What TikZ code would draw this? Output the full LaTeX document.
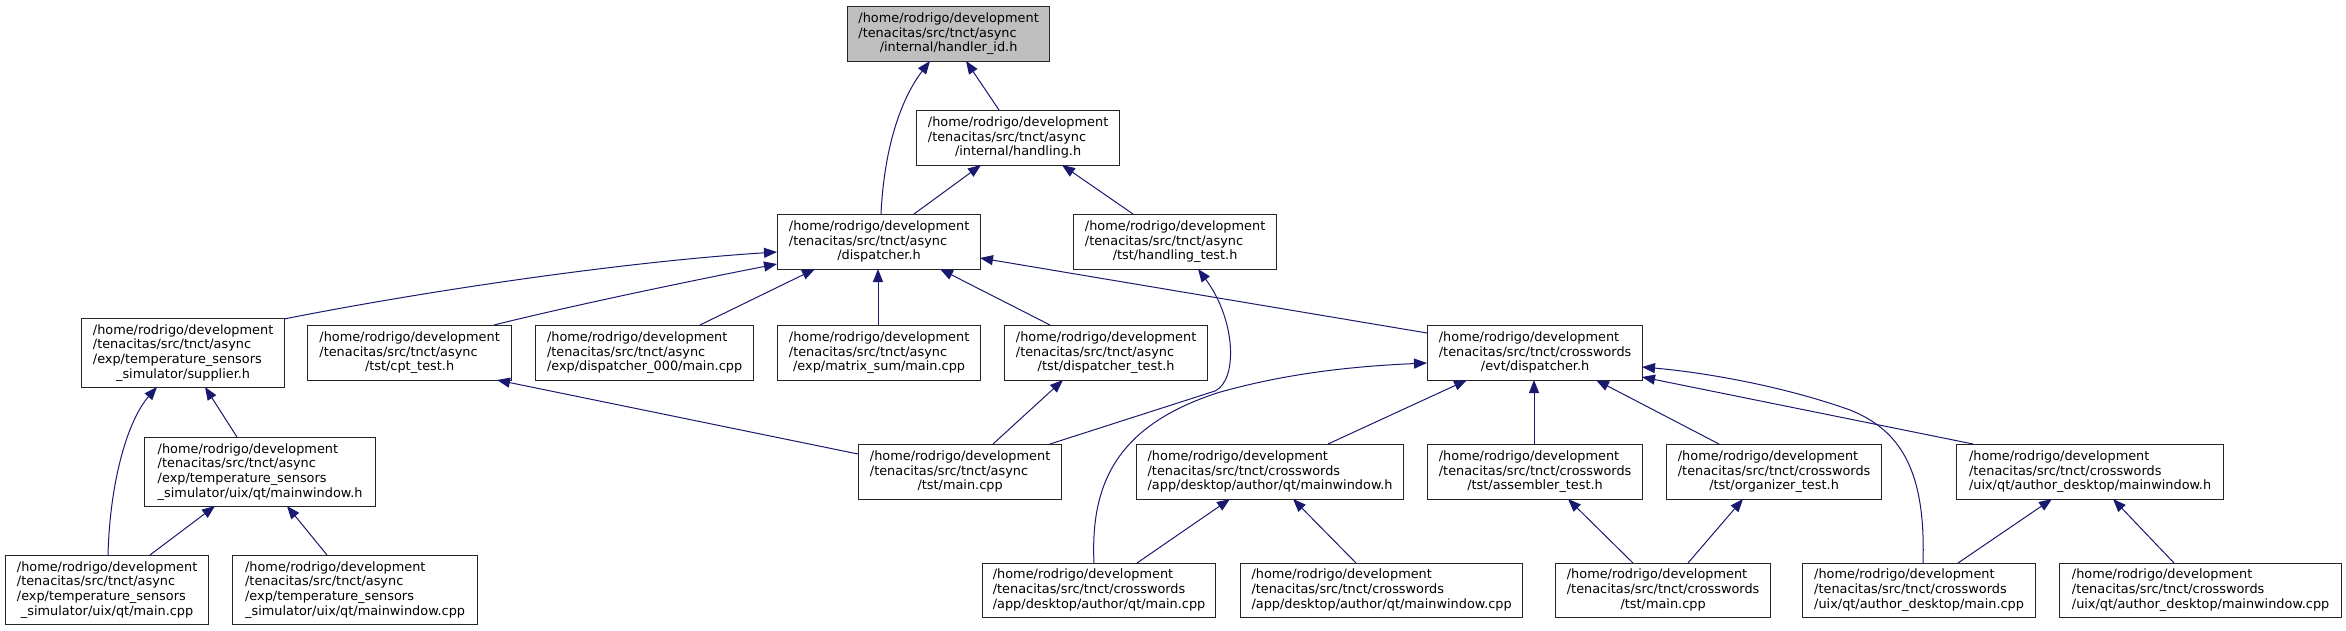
\documentclass[tikz,border=0pt]{standalone}
\usepackage{fontspec}
\setmainfont{DejaVu Sans}
\usetikzlibrary{arrows.meta,calc}
\definecolor{edgeblue}{HTML}{191970}
\definecolor{rootgray}{HTML}{BFBFBF}
\newcommand\labthree[3]{\begin{tabular}{@{}l@{}}#1\\#2\\\multicolumn{1}{@{}c@{}}{#3}\end{tabular}}
\newcommand\labfour[4]{\begin{tabular}{@{}l@{}}#1\\#2\\#3\\\multicolumn{1}{@{}c@{}}{#4}\end{tabular}}
\begin{document}
\begin{tikzpicture}[x=1pt,y=-1pt,
  box/.style={draw=black!85, line width=1.2pt, fill=white, inner sep=0pt, anchor=north west,
    font=\fontsize{12.87}{14.67}\selectfont},
  edge/.style={draw=edgeblue, line width=1pt, -{Triangle[length=13pt,width=10pt]}}]
\useasboundingbox[fill=white] (0,0) rectangle (2346,631);
% rank 0
\node[box, fill=rootgray, minimum width=202pt, minimum height=55pt] (hid) at (847,6)
  {\labthree{/home/rodrigo/development}{/tenacitas/src/tnct/async}{/internal/handler\_id.h}};
% rank 1
\node[box, minimum width=203pt, minimum height=55pt] (hdl) at (916,110)
  {\labthree{/home/rodrigo/development}{/tenacitas/src/tnct/async}{/internal/handling.h}};
% rank 2
\node[box, minimum width=203pt, minimum height=55pt] (dsp) at (777,214)
  {\labthree{/home/rodrigo/development}{/tenacitas/src/tnct/async}{/dispatcher.h}};
\node[box, minimum width=203pt, minimum height=55pt] (hdt) at (1073,214)
  {\labthree{/home/rodrigo/development}{/tenacitas/src/tnct/async}{/tst/handling\_test.h}};
% rank 3
\node[box, minimum width=203pt, minimum height=69pt] (sup) at (81,318)
  {\labfour{/home/rodrigo/development}{/tenacitas/src/tnct/async}{/exp/temperature\_sensors}{\_simulator/supplier.h}};
\node[box, minimum width=204pt, minimum height=55pt] (cpt) at (307,325)
  {\labthree{/home/rodrigo/development}{/tenacitas/src/tnct/async}{/tst/cpt\_test.h}};
\node[box, minimum width=218pt, minimum height=55pt] (d000) at (535,325)
  {\labthree{/home/rodrigo/development}{/tenacitas/src/tnct/async}{/exp/dispatcher\_000/main.cpp}};
\node[box, minimum width=203pt, minimum height=55pt] (msum) at (777,325)
  {\labthree{/home/rodrigo/development}{/tenacitas/src/tnct/async}{/exp/matrix\_sum/main.cpp}};
\node[box, minimum width=203pt, minimum height=55pt] (dtst) at (1004,325)
  {\labthree{/home/rodrigo/development}{/tenacitas/src/tnct/async}{/tst/dispatcher\_test.h}};
\node[box, minimum width=215pt, minimum height=55pt] (evt) at (1427,325)
  {\labthree{/home/rodrigo/development}{/tenacitas/src/tnct/crosswords}{/evt/dispatcher.h}};
% rank 4
\node[box, minimum width=231pt, minimum height=69pt] (tsmw) at (144,437)
  {\labfour{/home/rodrigo/development}{/tenacitas/src/tnct/async}{/exp/temperature\_sensors}{\_simulator/uix/qt/mainwindow.h}};
\node[box, minimum width=203pt, minimum height=55pt] (amain) at (858,444)
  {\labthree{/home/rodrigo/development}{/tenacitas/src/tnct/async}{/tst/main.cpp}};
\node[box, minimum width=267pt, minimum height=55pt] (aqmw) at (1136,444)
  {\labthree{/home/rodrigo/development}{/tenacitas/src/tnct/crosswords}{/app/desktop/author/qt/mainwindow.h}};
\node[box, minimum width=215pt, minimum height=55pt] (asm) at (1427,444)
  {\labthree{/home/rodrigo/development}{/tenacitas/src/tnct/crosswords}{/tst/assembler\_test.h}};
\node[box, minimum width=215pt, minimum height=55pt] (org) at (1666,444)
  {\labthree{/home/rodrigo/development}{/tenacitas/src/tnct/crosswords}{/tst/organizer\_test.h}};
\node[box, minimum width=267pt, minimum height=55pt] (umw) at (1956,444)
  {\labthree{/home/rodrigo/development}{/tenacitas/src/tnct/crosswords}{/uix/qt/author\_desktop/mainwindow.h}};
% rank 5
\node[box, minimum width=203pt, minimum height=69pt] (tsmain) at (5,555)
  {\labfour{/home/rodrigo/development}{/tenacitas/src/tnct/async}{/exp/temperature\_sensors}{\_simulator/uix/qt/main.cpp}};
\node[box, minimum width=245pt, minimum height=69pt] (tsmwc) at (232,555)
  {\labfour{/home/rodrigo/development}{/tenacitas/src/tnct/async}{/exp/temperature\_sensors}{\_simulator/uix/qt/mainwindow.cpp}};
\node[box, minimum width=233pt, minimum height=54pt] (aqmain) at (982,563)
  {\labthree{/home/rodrigo/development}{/tenacitas/src/tnct/crosswords}{/app/desktop/author/qt/main.cpp}};
\node[box, minimum width=282pt, minimum height=54pt] (aqmwc) at (1240,563)
  {\labthree{/home/rodrigo/development}{/tenacitas/src/tnct/crosswords}{/app/desktop/author/qt/mainwindow.cpp}};
\node[box, minimum width=215pt, minimum height=54pt] (cmain) at (1555,563)
  {\labthree{/home/rodrigo/development}{/tenacitas/src/tnct/crosswords}{/tst/main.cpp}};
\node[box, minimum width=233pt, minimum height=54pt] (umain) at (1802,563)
  {\labthree{/home/rodrigo/development}{/tenacitas/src/tnct/crosswords}{/uix/qt/author\_desktop/main.cpp}};
\node[box, minimum width=282pt, minimum height=54pt] (umwc) at (2059,563)
  {\labthree{/home/rodrigo/development}{/tenacitas/src/tnct/crosswords}{/uix/qt/author\_desktop/mainwindow.cpp}};
% edges
\draw[edge] ($(hdl.north west)+(83,0)$) -- ($(hid.north west)+(119,55)$);
\draw[edge] ($(dsp.north west)+(104,0)$) .. controls (884,150) and (900,100) .. ($(hid.north west)+(83,55)$);
\draw[edge] ($(dsp.north west)+(137,0)$) -- ($(hdl.north west)+(65,55)$);
\draw[edge] ($(hdt.north west)+(60,0)$) -- ($(hdl.north west)+(146,55)$);
\draw[edge] ($(sup.north west)+(203,1)$) .. controls (420,292) and (620,262) .. ($(dsp.north west)+(0,38)$);
\draw[edge] ($(cpt.north west)+(187,0)$) .. controls (570,306) and (690,281) .. ($(dsp.north west)+(0,50)$);
\draw[edge] ($(d000.north west)+(165,0)$) -- ($(dsp.north west)+(38,55)$);
\draw[edge] ($(msum.north west)+(101,0)$) -- ($(dsp.north west)+(101,55)$);
\draw[edge] ($(dtst.north west)+(46,0)$) -- ($(dsp.north west)+(163,55)$);
\draw[edge] ($(evt.north west)+(0,8)$) -- ($(dsp.north west)+(203,44)$);
\draw[edge] ($(amain.north west)+(0,10)$) -- ($(cpt.north west)+(190,55)$);
\draw[edge] ($(amain.north west)+(135,0)$) -- ($(dtst.north west)+(59,55)$);
\draw[edge] ($(amain.north west)+(192,0)$) -- (1215,391) .. controls (1238,380) and (1236,320) .. ($(hdt.north west)+(125,55)$);
\draw[edge] ($(aqmain.north west)+(112,0)$) .. controls (1090,480) and (1120,425) .. (1217,393) .. controls (1290,372) and (1360,366) .. ($(evt.north west)+(0,38)$);
\draw[edge] ($(aqmw.north west)+(192,0)$) -- ($(evt.north west)+(40,55)$);
\draw[edge] ($(asm.north west)+(107,0)$) -- ($(evt.north west)+(107,55)$);
\draw[edge] ($(org.north west)+(53,0)$) -- ($(evt.north west)+(169,55)$);
\draw[edge] ($(umain.north west)+(121,0)$) .. controls (1926,470) and (1900,430) .. (1850,410) .. controls (1780,385) and (1700,372) .. ($(evt.north west)+(215,42)$);
\draw[edge] ($(umw.north west)+(17,0)$) -- ($(evt.north west)+(215,52)$);
\draw[edge] ($(aqmain.north west)+(155,0)$) -- ($(aqmw.north west)+(94,55)$);
\draw[edge] ($(aqmwc.north west)+(116,0)$) -- ($(aqmw.north west)+(157,55)$);
\draw[edge] ($(cmain.north west)+(78,0)$) -- ($(asm.north west)+(141,55)$);
\draw[edge] ($(cmain.north west)+(133,0)$) -- ($(org.north west)+(77,55)$);
\draw[edge] ($(umain.north west)+(156,0)$) -- ($(umw.north west)+(96,55)$);
\draw[edge] ($(umwc.north west)+(115,0)$) -- ($(umw.north west)+(157,55)$);
\draw[edge] ($(tsmw.north west)+(93,0)$) -- ($(sup.north west)+(124,69)$);
\draw[edge] ($(tsmain.north west)+(103,0)$) .. controls (110,480) and (128,420) .. ($(sup.north west)+(76,69)$);
\draw[edge] ($(tsmain.north west)+(145,0)$) -- ($(tsmw.north west)+(71,69)$);
\draw[edge] ($(tsmwc.north west)+(95,0)$) -- ($(tsmw.north west)+(143,69)$);
\end{tikzpicture}
\end{document}
